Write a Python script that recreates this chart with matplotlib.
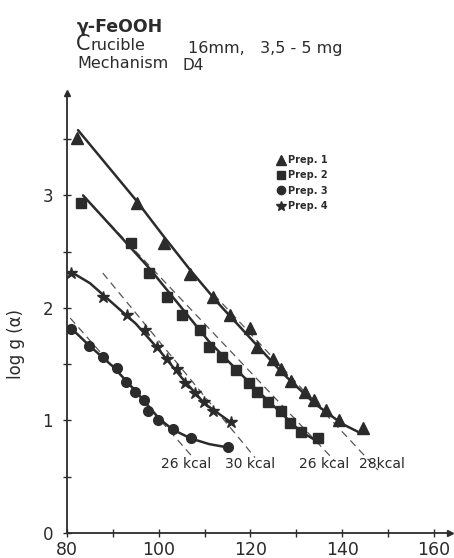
import matplotlib
matplotlib.use("Agg")
import matplotlib.pyplot as plt
from matplotlib.lines import Line2D

plt.rcParams['font.family'] = ['DejaVu Sans']

# measured points (x = temperature axis, y = log g(alpha))
prep1_x = [82.2, 95.3, 101.1, 106.8, 111.8, 115.5, 119.9, 121.4, 124.9, 126.6, 128.8, 131.9, 133.8, 136.5, 139.3, 144.5]
prep1_y = [3.51, 2.93, 2.58, 2.30, 2.10, 1.94, 1.82, 1.65, 1.55, 1.46, 1.35, 1.25, 1.18, 1.09, 1.00, 0.93]
prep2_x = [83.0, 94.0, 97.9, 101.8, 105.1, 109.0, 111.0, 113.8, 116.8, 119.7, 121.4, 123.8, 126.6, 128.6, 131.0, 134.7]
prep2_y = [2.93, 2.58, 2.31, 2.10, 1.94, 1.80, 1.65, 1.56, 1.45, 1.33, 1.25, 1.16, 1.08, 0.98, 0.90, 0.84]
prep3_x = [80.9, 84.8, 87.8, 90.9, 92.9, 94.8, 96.8, 97.7, 99.8, 103.1, 107.0, 115.1]
prep3_y = [1.81, 1.66, 1.56, 1.47, 1.34, 1.25, 1.18, 1.08, 1.00, 0.92, 0.84, 0.76]
prep4_x = [80.9, 87.8, 93.1, 97.0, 99.6, 101.8, 104.0, 105.7, 107.9, 109.9, 111.8, 115.7]
prep4_y = [2.31, 2.10, 1.94, 1.80, 1.65, 1.55, 1.46, 1.33, 1.24, 1.16, 1.08, 0.99]

# hand-drawn fit curves (vertices)
fit1_x = [82.4, 95.0, 101.0, 107.0, 113.0, 120.0, 127.0, 134.0, 140.0, 143.4]
fit1_y = [3.58, 2.96, 2.64, 2.33, 2.04, 1.73, 1.42, 1.15, 0.97, 0.90]
fit2_x = [83.5, 90.0, 98.0, 105.0, 111.0, 117.0, 121.4, 126.6, 131.0, 135.2]
fit2_y = [3.00, 2.71, 2.35, 2.00, 1.70, 1.45, 1.27, 1.07, 0.90, 0.80]
fit3_x = [80.9, 85.0, 90.0, 95.0, 100.0, 103.0, 107.0, 111.0, 115.1]
fit3_y = [1.82, 1.66, 1.48, 1.26, 1.02, 0.92, 0.84, 0.79, 0.76]
fit4_x = [80.9, 85.0, 90.0, 95.0, 100.0, 105.0, 110.0, 115.5]
fit4_y = [2.32, 2.22, 2.04, 1.86, 1.63, 1.38, 1.15, 0.99]

# dashed activation-energy lines (start, end)
dash_x = [[112.0, 147.8], [85.5, 138.4], [80.7, 107.5], [87.8, 121.0]]
dash_y = [[2.12, 0.56], [2.91, 0.64], [1.91, 0.67], [2.31, 0.67]]
dash_labels = ['28kcal', '26 kcal', '26 kcal', '30 kcal']
label_x = [148.6, 136.0, 105.9, 119.9]

labels = ['Prep. 1', 'Prep. 2', 'Prep. 3', 'Prep. 4']
markers = ['^', 's', 'o', '*']
sizes = [8, 6.5, 7, 9]

ink = '#2b2b2b'

fig = plt.figure(figsize=(4.54, 5.58), dpi=100)
ax = fig.add_axes([0.1476, 0.0448, 0.8436, 0.7885])
ax.set_xlim(80, 163.5)
ax.set_ylim(0, 3.91)

pts = [(prep1_x, prep1_y), (prep2_x, prep2_y), (prep3_x, prep3_y), (prep4_x, prep4_y)]
fits = [(fit1_x, fit1_y), (fit2_x, fit2_y), (fit3_x, fit3_y), (fit4_x, fit4_y)]

for (fx, fy) in fits:
    ax.plot(fx, fy, color=ink, lw=1.8, solid_capstyle='round', zorder=2)
for i, (px, py) in enumerate(pts):
    ax.plot(px, py, ls='', marker=markers[i], ms=sizes[i], color=ink, mec=ink, zorder=3)
for dx, dy in zip(dash_x, dash_y):
    ax.plot(dx, dy, color='#555555', lw=0.9, dashes=(6, 4), zorder=1)
for lx, lab in zip(label_x, dash_labels):
    ax.text(lx, 0.61, lab, ha='center', va='center', fontsize=10, color=ink)

# legend
handles = [Line2D([], [], ls='', marker=markers[i], ms=sizes[i] * 0.85, color=ink) for i in range(4)]
leg = ax.legend(handles, labels, loc='upper left', bbox_to_anchor=(0.53, 0.87), frameon=False,
                fontsize=7, handletextpad=0.2, labelspacing=0.55, handlelength=1.2, borderpad=0)
for t in leg.get_texts():
    t.set_fontweight('bold')
    t.set_color(ink)

# axes style
for s in ['top', 'right']:
    ax.spines[s].set_visible(False)
ax.spines['left'].set_linewidth(1.3)
ax.spines['bottom'].set_linewidth(1.3)
ax.spines['left'].set_color(ink)
ax.spines['bottom'].set_color(ink)
ax.plot(1, 0, '>', color=ink, ms=4, transform=ax.transAxes, clip_on=False)
ax.plot(0, 1, '^', color=ink, ms=4, transform=ax.transAxes, clip_on=False)

ax.set_xticks(range(80, 161, 10))
ax.set_xticklabels(['80', '', '100', '', '120', '', '140', '', '160'])
ax.set_yticks([0, 0.5, 1, 1.5, 2, 2.5, 3, 3.5])
ax.set_yticklabels(['0', '', '1', '', '2', '', '3', ''])
ax.tick_params(direction='inout', length=6, width=1, colors=ink, labelsize=12.5, pad=3)
ax.tick_params(axis='y', labelsize=12, pad=7)

ax.set_ylabel('log g (α)', fontsize=12, color=ink)
ax.yaxis.set_label_coords(-0.11, 0.43)

# header
fig.text(77 / 454, 1 - 32 / 558, 'γ-FeOOH', fontsize=12.5, fontweight='bold', color=ink, va='baseline')
fig.text(76 / 454, 1 - 50 / 558, 'C', fontsize=15, color=ink, va='baseline')
fig.text(90 / 454, 1 - 50 / 558, 'rucible', fontsize=11.5, color=ink, va='baseline')
fig.text(188 / 454, 1 - 53 / 558, '16mm,   3,5 - 5 mg', fontsize=11.5, color=ink, va='baseline')
fig.text(77 / 454, 1 - 68 / 558, 'Mechanism', fontsize=11.5, color=ink, va='baseline')
fig.text(183 / 454, 1 - 70 / 558, 'D4', fontsize=11, color=ink, va='baseline')

fig.savefig('out.png', dpi=100)
